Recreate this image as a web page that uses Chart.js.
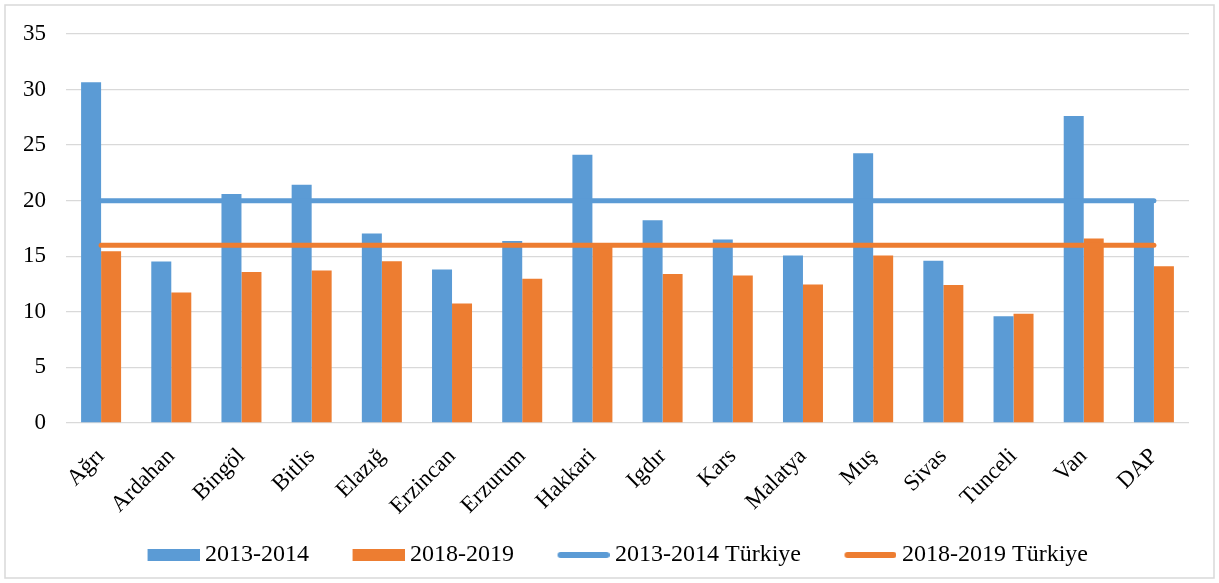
<!DOCTYPE html>
<html>
<head>
<meta charset="utf-8">
<script src="https://cdn.jsdelivr.net/npm/chart.js@4/dist/chart.umd.min.js"></script>
<style>
  body{margin:0;background:#fff}
  #wrap{position:relative;width:1219px;height:583px}
</style>
</head>
<body>
<div id="wrap"><canvas id="graph"></canvas></div>
<script>
const provinces=['Ağrı','Ardahan','Bingöl','Bitlis','Elazığ','Erzincan','Erzurum','Hakkari','Igdır','Kars','Malatya','Muş','Sivas','Tunceli','Van','DAP']
const rate2013=[30.65,14.53,20.6,21.44,17.06,13.8,16.37,24.13,18.24,16.52,15.07,24.28,14.59,9.6,27.63,20.0]
const rate2018=[15.46,11.75,13.59,13.71,14.56,10.75,12.99,16.1,13.41,13.26,12.47,15.07,12.41,9.82,16.6,14.1]
const turkiye2013=[20,20,20,20,20,20,20,20,20,20,20,20,20,20,20,20]
const turkiye2018=[16,16,16,16,16,16,16,16,16,16,16,16,16,16,16,16]
const yTicks=[0,5,10,15,20,25,30,35]

const blue='#5B9BD5'
const orange='#ED7D31'
const font="'Liberation Serif','Times New Roman',serif"

// legend markers: 52px wide box / thick rounded line, drawn on the right part
// of a wider transparent canvas so the gap between items stays like excel
function marker(color,kind){
    let c=document.createElement('canvas')
    c.width=83
    c.height=kind==='line'?8:12
    let ctx=c.getContext('2d')
    if(kind==='line'){
        ctx.strokeStyle=color
        ctx.lineWidth=6
        ctx.lineCap='round'
        ctx.beginPath()
        ctx.moveTo(34,4)
        ctx.lineTo(80,4)
        ctx.stroke()
    }else{
        ctx.fillStyle=color
        ctx.fillRect(31,0,52,12)
    }
    return c
}

const frame={
    id:'frame',
    beforeDraw(chart){
        let ctx=chart.ctx
        ctx.save()
        ctx.fillStyle='#fff'
        ctx.fillRect(0,0,chart.width,chart.height)
        ctx.strokeStyle='#d9d9d9'
        ctx.lineWidth=1.5
        ctx.strokeRect(5,5,1209,573)
        ctx.restore()
    }
}

Chart.defaults.font.family=font
Chart.defaults.color='#000'

new Chart('graph',{
    data:{
        labels:provinces,
        datasets:[
            {type:'bar',label:'2013-2014',data:rate2013,backgroundColor:blue,order:1,
             categoryPercentage:0.57,barPercentage:1,pointStyle:marker(blue,'box')},
            {type:'bar',label:'2018-2019',data:rate2018,backgroundColor:orange,order:1,
             categoryPercentage:0.57,barPercentage:1,pointStyle:marker(orange,'box')},
            {type:'line',label:'2013-2014 Türkiye',data:turkiye2013,borderColor:blue,backgroundColor:blue,
             borderWidth:5,pointRadius:0,borderCapStyle:'round',order:0,pointStyle:marker(blue,'line')},
            {type:'line',label:'2018-2019 Türkiye',data:turkiye2018,borderColor:orange,backgroundColor:orange,
             borderWidth:5,pointRadius:0,borderCapStyle:'round',order:0,pointStyle:marker(orange,'line')}
        ]
    },
    options:{
        responsive:true,
        maintainAspectRatio:false,
        animation:false,
        layout:{padding:{top:34,right:30,left:22,bottom:6}},
        plugins:{
            tooltip:{enabled:false},
            legend:{
                position:'bottom',
                labels:{
                    font:{size:24,family:font},
                    color:'#000',
                    usePointStyle:true,
                    pointStyleWidth:70,
                    padding:19,
                    sort:(a,b)=>a.datasetIndex-b.datasetIndex
                }
            }
        },
        scales:{
            x:{
                grid:{display:false},
                border:{display:false},
                ticks:{font:{size:23},color:'#000',minRotation:45,maxRotation:45,autoSkip:false,padding:12},
                afterFit(scale){scale.height=101}
            },
            y:{
                min:0,max:35,
                afterBuildTicks(scale){scale.ticks=yTicks.map(v=>({value:v}))},
                grid:{color:'#d9d9d9',lineWidth:1.3,drawTicks:false},
                border:{display:false},
                ticks:{font:{size:23},color:'#000',padding:20},
                afterFit(scale){scale.width=44}
            }
        }
    },
    plugins:[frame]
})
</script>
</body>
</html>
